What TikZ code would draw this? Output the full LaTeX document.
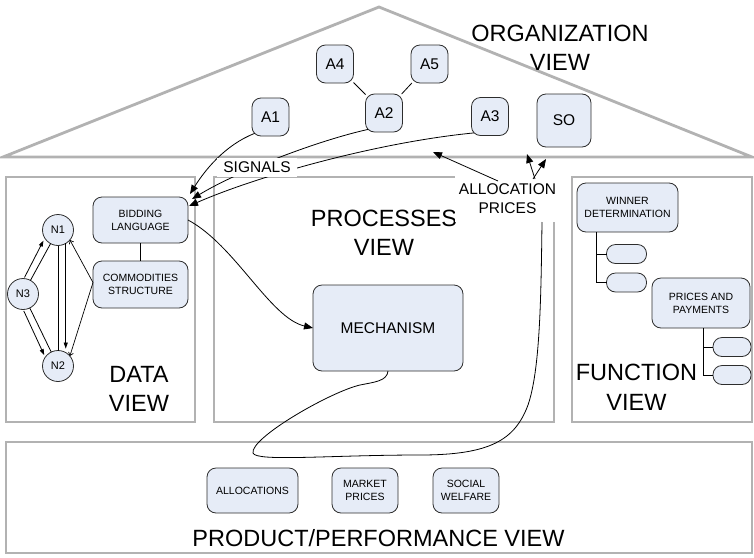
\documentclass[tikz,border=0pt]{standalone}
\usepackage{fontspec}
\setmainfont{Liberation Sans}
\usetikzlibrary{arrows.meta,calc}

\definecolor{boxfill}{RGB}{230,236,247}
\definecolor{boxline}{RGB}{45,45,45}
\definecolor{viewline}{RGB}{178,178,178}

\begin{document}
\begin{tikzpicture}[x=1pt,y=-1pt,
  every node/.style={inner sep=0pt, outer sep=0pt},
  view/.style={draw=viewline, line width=2.8pt},
  elem/.style={draw=boxline, fill=boxfill, line width=0.8pt, rounded corners=9pt,
    align=center, font=\fontsize{10.5}{13}\selectfont},
  agent/.style={elem, minimum width=37pt, minimum height=38pt,
    font=\fontsize{15.5}{18}\selectfont},
  entity/.style={draw=boxline, fill=boxfill, line width=0.8pt, circle,
    minimum size=31pt, font=\fontsize{11}{13}\selectfont},
  pill/.style={draw=boxline, fill=boxfill, line width=0.8pt, rounded corners=9pt,
    minimum width=40pt, minimum height=19pt},
  title/.style={align=center, font=\fontsize{23.5}{29.5}\selectfont},
  tag/.style={fill=white, align=center, font=\fontsize{15.5}{19}\selectfont},
  link/.style={line width=0.8pt},
  flow/.style={line width=0.8pt, -{Triangle[length=9pt,width=7pt]}},
  smallflow/.style={line width=0.8pt, -{Triangle[length=6pt,width=4pt]}},
  openflow/.style={line width=0.7pt, -{Straight Barb[length=3pt,width=5pt]}}
]
\useasboundingbox (0,0) rectangle (754,557);

% the four view frames and the roof
\draw[view] (6,177) rectangle (195,422);
\draw[view] (214,177) rectangle (554,422);
\draw[view] (572,177) rectangle (752,422);
\draw[view] (6,442) rectangle (752,553);
\draw[view, line join=miter] (3,157) -- (379,7) -- (752,157) -- cycle;

% view titles
\node[title] (orgview)  at (560,48)    {ORGANIZATION\\VIEW};
\node[title] (procview) at (384,233)   {PROCESSES\\VIEW};
\node[title] (dataview) at (139,389)   {DATA\\VIEW};
\node[title] (funcview) at (636.5,387.5) {FUNCTION\\VIEW};
\node[title] (prodview) at (378.5,538) {PRODUCT/PERFORMANCE VIEW};

% organization view: agents
\node[agent] (A4) at (335,64)     {A4};
\node[agent] (A5) at (429.5,64)   {A5};
\node[agent] (A1) at (270.5,117)  {A1};
\node[agent] (A2) at (384,113)    {A2};
\node[agent] (A3) at (490,116.5)  {A3};
\node[agent, minimum width=54pt, minimum height=53pt] (SO) at (564,120.5) {SO};
\draw[link] (A4) -- (A2);
\draw[link] (A5) -- (A2);

% data view
\node[elem, minimum width=95pt, minimum height=46pt] (bid)  at (140.5,220)   {BIDDING\\LANGUAGE};
\node[elem, minimum width=95pt, minimum height=47pt] (comm) at (140.5,284.5) {COMMODITIES\\STRUCTURE};
\draw[link] (bid) -- (comm);

\node[entity] (N1) at (58,230)  {N1};
\node[entity] (N3) at (23,294)  {N3};
\node[entity] (N2) at (58,366)  {N2};
\draw[link] (N1) -- (N2);
\draw[link] (N3) -- (N1);
\draw[link] (N3) -- (N2);
\draw[smallflow] ($(N3.61)+(-6,-3)$) -- ($(N1.241)+(-7,-3)$);
\draw[smallflow] ($(N3.-64)+(-6,3)$) -- ($(N2.116)+(-7,3)$);
\draw[smallflow] (N1.-60) -- ($(N2.60)+(0,-4)$);
\draw[openflow] ($(comm.west)+(0,-2)$) -- (N1.-40);
\draw[openflow] ($(comm.west)+(0,-2)$) -- (N2.40);

% processes view
\node[elem, minimum width=150pt, minimum height=86pt, font=\fontsize{15.5}{18}\selectfont] (mech) at (388,328) {MECHANISM};
\draw[flow] (bid.east) .. controls (235,245) and (270,318) .. (mech.west);

% function view
\node[elem, minimum width=101pt, minimum height=49pt] (wd) at (627.5,207.5) {WINNER\\DETERMINATION};
\node[pill] (p1) at (626.5,254)   {};
\node[pill] (p2) at (626.5,282.5) {};
\node[elem, minimum width=98pt, minimum height=50pt] (pp) at (701,303) {PRICES AND\\PAYMENTS};
\node[pill, minimum width=38pt] (p3) at (732,347) {};
\node[pill, minimum width=38pt] (p4) at (732,375) {};
\draw[link] ($(wd.south west)+(19,0)$) |- (p1.west);
\draw[link] ($(wd.south west)+(19,0)$) |- (p2.west);
\draw[link] ($(pp.south)+(2,0)$) |- (p3.west);
\draw[link] ($(pp.south)+(2,0)$) |- (p4.west);

% product / performance view
\node[elem, minimum width=91pt, minimum height=45pt] (alloc)  at (252.5,490.5) {ALLOCATIONS};
\node[elem, minimum width=66pt, minimum height=45pt] (market) at (365,490.5)   {MARKET\\PRICES};
\node[elem, minimum width=66pt, minimum height=45pt] (social) at (466,490.5)   {SOCIAL\\WELFARE};

% signals from the agents to the bidding language
\draw[flow] ($(A1.south west)+(2.6,-2.6)$) .. controls (225,145) and (205,170) .. ($(bid.north east)+(2,-3)$);
\draw[flow] ($(A2.south west)+(2.6,-2.6)$) .. controls (320,140) and (240,170) .. ($(bid.north east)+(4,2)$);
\draw[flow] ($(A3.south west)+(2.6,-2.6)$) .. controls (380,142) and (260,175) .. ($(bid.north east)+(1,9)$);
\node[tag, minimum width=80pt, minimum height=19pt] (sig) at (257,167.5) {SIGNALS};

% outcome of the mechanism, looping through the product view
\node[tag, minimum width=105pt, minimum height=46pt] (apl) at (507.5,198.5) {ALLOCATION\\PRICES};
\draw[link] (mech.south) .. controls (387,381) and (375,382) .. (360,385)
  .. controls (330,392) and (250,438) .. (253,453)
  .. controls (256,462) and (330,455) .. (420,455)
  .. controls (490,455) and (515,440) .. (528,405)
  .. controls (540,370) and (541,300) .. ($(apl.south)+(34.5,0.5)$);

\coordinate (org1) at (433,152);
\coordinate (org2) at (527,154);
\coordinate (org3) at (546,159);
\draw[flow] ($(apl.north)+(-9.5,5.5)$) -- (org1);
\draw[flow] ($(apl.north)+(27.5,3.5)$) -- (org2);
\draw[flow] ($(apl.north)+(25.5,3.5)$) -- (org3);
\end{tikzpicture}
\end{document}
